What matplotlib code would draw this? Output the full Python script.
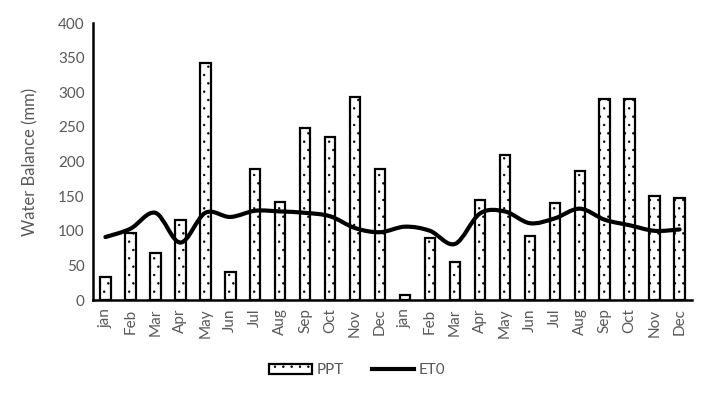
import matplotlib
matplotlib.use("Agg")
import matplotlib.pyplot as plt
from matplotlib.path import Path
from matplotlib.patches import PathPatch
from matplotlib.lines import Line2D
from matplotlib.patches import Patch
import numpy as np

# data (two years, monthly)
months = ["jan", "Feb", "Mar", "Apr", "May", "Jun", "Jul", "Aug", "Sep", "Oct", "Nov", "Dec",
          "jan", "Feb", "Mar", "Apr", "May", "Jun", "Jul", "Aug", "Sep", "Oct", "Nov", "Dec"]
ppt = [33, 97, 68, 115, 343, 40, 190, 141, 249, 235, 294, 190,
       8, 89, 55, 144, 209, 92, 140, 187, 290, 291, 151, 147]
et0 = [91, 103, 126, 83, 126, 120, 129, 128, 126, 121, 104, 98,
       106, 100, 81, 125, 128, 111, 118, 132, 116, 108, 100, 102]
yticks = [0, 50, 100, 150, 200, 250, 300, 350, 400]

grey = "#595959"
plt.rcParams["font.family"] = ["Lato", "DejaVu Sans"]
plt.rcParams["hatch.linewidth"] = 0.5

fig = plt.figure(figsize=(7.15, 3.99), dpi=100)
ax = fig.add_axes([0.130, 0.248, 0.838, 0.694])

x = np.arange(len(months))
ax.bar(x, ppt, width=0.42, facecolor="white", edgecolor="black",
       linewidth=1.6, hatch="..", zorder=2)


def smooth_path(xs, ys):
    # Excel-like smoothed line: cubic bezier with catmull-rom tangents
    pts = np.column_stack([xs, ys]).astype(float)
    verts = [pts[0]]
    codes = [Path.MOVETO]
    n = len(pts)
    for i in range(n - 1):
        p0 = pts[i - 1] if i > 0 else pts[i]
        p1 = pts[i]
        p2 = pts[i + 1]
        p3 = pts[i + 2] if i + 2 < n else pts[i + 1]
        c1 = p1 + (p2 - p0) / 6.0
        c2 = p2 - (p3 - p1) / 6.0
        verts += [c1, c2, p2]
        codes += [Path.CURVE4] * 3
    return Path(verts, codes)


ax.add_patch(PathPatch(smooth_path(x, et0), facecolor="none", edgecolor="black",
                       linewidth=3.0, capstyle="round", joinstyle="round", zorder=3))

ax.set_xlim(-0.5, len(months) - 0.5)
ax.set_ylim(0, 400)
ax.set_yticks(yticks)
ax.set_xticks(x)
ax.set_xticklabels(months, rotation=90)
ax.tick_params(length=0, labelsize=11, colors=grey, pad=6)
for s in ["top", "right"]:
    ax.spines[s].set_visible(False)
for s in ["left", "bottom"]:
    ax.spines[s].set_linewidth(1.8)
    ax.spines[s].set_color("black")
ax.set_ylabel("Water Balance (mm)", fontsize=12, color=grey, labelpad=14)

handles = [Patch(facecolor="white", edgecolor="black", linewidth=1.6, hatch=".."),
           Line2D([0], [0], color="black", linewidth=3.0)]
leg = fig.legend(handles, ["PPT", "ET0"], loc="center", bbox_to_anchor=(0.5, 0.072),
                 ncol=2, frameon=False, fontsize=11, handlelength=2.8, handleheight=0.6,
                 handletextpad=0.3, columnspacing=1.8)
for t in leg.get_texts():
    t.set_color(grey)

fig.savefig("out.png", dpi=100)
